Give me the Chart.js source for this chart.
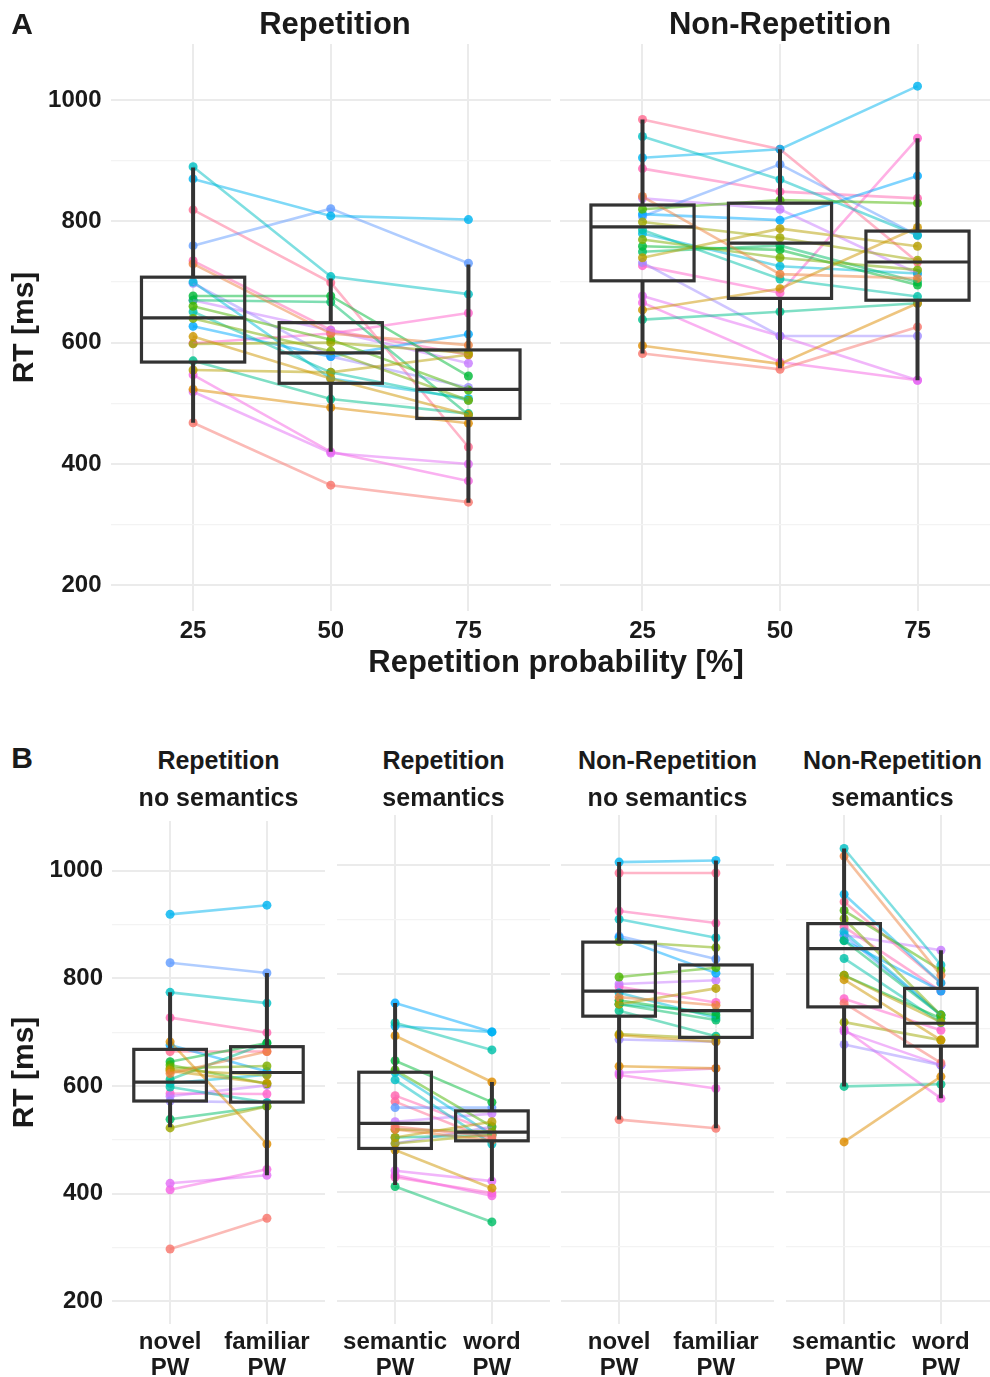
<!DOCTYPE html>
<html>
<head>
<meta charset="utf-8">
<script src="https://cdn.jsdelivr.net/npm/chart.js@4"></script>
<style>
  body { margin: 0; background: #fff; overflow: hidden; }
  #wrap { position: relative; width: 990px; height: 1377px; overflow: hidden; background: #fff;
          font-family: "Liberation Sans", Arial, sans-serif; font-weight: bold; color: #1a1a1a; }
  canvas { position: absolute; }
  .lbl { position: absolute; white-space: nowrap; line-height: 1; transform: translateX(-50%); text-align: center; }
</style>
</head>
<body>
<div id="wrap">
  <canvas id="aRep" width="551" height="650" style="left:0;top:0"></canvas>
  <canvas id="aNon" width="440" height="650" style="left:560px;top:0"></canvas>
  <canvas id="b1" width="325" height="577" style="left:0;top:800px"></canvas>
  <canvas id="b2" width="213" height="577" style="left:337px;top:800px"></canvas>
  <canvas id="b3" width="213" height="577" style="left:561px;top:800px"></canvas>
  <canvas id="b4" width="213" height="577" style="left:786px;top:800px"></canvas>
</div>
<script>
// tick labels
const probLabels = ['25', '50', '75'];
const noSemLabels = [['novel', 'PW'], ['familiar', 'PW']];
const semLabels = [['semantic', 'PW'], ['word', 'PW']];
const yMajor = [200, 400, 600, 800, 1000];
const yMinor = [300, 500, 700, 900];

// panel A: one row per participant, RT at 25 / 50 / 75 %
const repA = [
  [468, 365, 337], [730, 615, 596], [523, 493, 467], [610, 541, 481], [555, 551, 580], [598, 600, 583],
  [640, 586, 505], [660, 605, 522], [677, 677, 545], [670, 667, 481], [570, 507, 483], [651, 551, 505],
  [890, 709, 680], [700, 541, 508], [870, 809, 803], [627, 577, 614], [760, 821, 731], [698, 577, 526],
  [670, 620, 566], [519, 418, 400], [547, 420, 372], [599, 615, 649], [735, 621, 580], [819, 699, 428]
];
const nonRepA = [
  [582, 556, 626], [841, 713, 706], [595, 565, 665], [654, 689, 790], [740, 788, 759], [799, 773, 736],
  [770, 740, 720], [820, 835, 830], [759, 753, 695], [750, 760, 700], [638, 651, 665], [786, 705, 676],
  [940, 869, 777], [780, 726, 714], [905, 919, 1023], [812, 802, 875], [808, 894, 777], [732, 611, 611],
  [838, 820, 714], [677, 611, 538], [666, 568, 538], [727, 682, 937], [887, 849, 838], [968, 919, 733]
];

// panel B: one row per participant, RT for the two item types
const repNoSem = [
  [297, 354], [623, 664], [682, 492], [628, 605], [630, 620], [522, 562], [633, 637], [639, 604],
  [645, 680], [538, 562], [612, 680], [598, 569], [774, 754], [605, 621], [919, 936], [676, 627],
  [829, 810], [572, 569], [581, 601], [419, 434], [407, 445], [586, 585], [727, 699], [664, 664]
];
const repSem = [
  [520, 502], [515, 495], [687, 602], [477, 407], [500, 529], [489, 505], [515, 511], [624, 520],
  [641, 565], [410, 345], [500, 505], [711, 661], [606, 488], [620, 505], [705, 694], [747, 694],
  [555, 555], [489, 520], [529, 544], [439, 420], [431, 393], [427, 398], [577, 511], [566, 495]
];
const nonRepNoSem = [
  [533, 517], [758, 743], [631, 627], [688, 676], [745, 774], [690, 682], [860, 849], [795, 812],
  [752, 725], [745, 716], [733, 686], [745, 731], [901, 867], [766, 720], [1006, 1009], [867, 802],
  [870, 828], [680, 676], [782, 789], [619, 627], [615, 590], [777, 748], [916, 894], [986, 986]
];
const nonRepSem = [
  [747, 637], [1017, 798], [492, 612], [790, 679], [798, 712], [712, 679], [902, 725], [917, 807],
  [798, 719], [862, 725], [594, 598], [829, 711], [1031, 817], [878, 725], [947, 784], [862, 769],
  [872, 725], [671, 633], [872, 844], [695, 633], [699, 572], [755, 697], [887, 769], [933, 784]
];

// boxplots: [lower whisker, q1, median, q3, upper whisker]
const boxRepA = [[468, 568, 641, 708, 889], [420, 533, 583, 633, 706], [336, 475, 523, 588, 729]];
const boxNonRepA = [[582, 702, 791, 827, 968], [558, 673, 764, 830, 919], [538, 670, 733, 784, 937]];
const boxRepNoSem = [[523, 572, 607, 668, 774], [434, 570, 625, 673, 810]];
const boxRepSem = [[413, 480, 526, 620, 747], [420, 494, 510, 549, 602]];
const boxNonRepNoSem = [[533, 723, 769, 859, 1006], [517, 684, 733, 817, 1009]];
const boxNonRepSem = [[594, 740, 847, 893, 1031], [572, 668, 710, 774, 844]];

// ggplot-like hue palette
function hclRgb(h, c, l) {
  const hr = h * Math.PI / 180;
  const u = c * Math.cos(hr), v = c * Math.sin(hr);
  const Xn = 95.047, Yn = 100, Zn = 108.883;
  const den = Xn + 15 * Yn + 3 * Zn;
  const un = 4 * Xn / den, vn = 9 * Yn / den;
  const Y = Yn * Math.pow((l + 16) / 116, 3);
  const up = u / (13 * l) + un, vp = v / (13 * l) + vn;
  const X = Y * 9 * up / (4 * vp);
  const Z = Y * (12 - 3 * up - 20 * vp) / (4 * vp);
  const x = X / 100, y = Y / 100, z = Z / 100;
  const r = 3.2404542 * x - 1.5371385 * y - 0.4985314 * z;
  const g = -0.9692660 * x + 1.8760108 * y + 0.0415560 * z;
  const b = 0.0556434 * x - 0.2040259 * y + 1.0572252 * z;
  const gam = t => {
    t = t <= 0.0031308 ? 12.92 * t : 1.055 * Math.pow(t, 1 / 2.4) - 0.055;
    return Math.round(Math.max(0, Math.min(1, t)) * 255);
  };
  return [gam(r), gam(g), gam(b)];
}
const colors = repA.map((_, i) => hclRgb(15 + 15 * i, 100, 65));

Chart.defaults.font.family = '"Liberation Sans", Arial, sans-serif';
Chart.defaults.font.weight = 'bold';
Chart.defaults.color = '#1a1a1a';

function boxPlugin(stats) {
  return {
    id: 'boxes',
    afterDatasetsDraw(chart) {
      const { ctx, scales: { x, y } } = chart;
      const half = (x.getPixelForValue(2) - x.getPixelForValue(1)) * 0.375;
      ctx.save();
      ctx.strokeStyle = '#333333';
      stats.forEach((s, k) => {
        const cx = x.getPixelForValue(k + 1);
        const [lo, q1, md, q3, hi] = s.map(v => y.getPixelForValue(v));
        ctx.lineWidth = 4;
        ctx.beginPath();
        ctx.moveTo(cx, hi); ctx.lineTo(cx, q3);
        ctx.moveTo(cx, q1); ctx.lineTo(cx, lo);
        ctx.stroke();
        ctx.lineWidth = 3.2;
        ctx.strokeRect(cx - half, q3, 2 * half, q1 - q3);
        ctx.beginPath();
        ctx.moveTo(cx - half, md); ctx.lineTo(cx + half, md);
        ctx.stroke();
      });
      ctx.restore();
    }
  };
}

function facet(id, series, boxes, labels, o) {
  const rgba = (i, a) => `rgba(${colors[i][0]},${colors[i][1]},${colors[i][2]},${a})`;
  const lines = series.map((vals, i) => ({
    data: vals.map((v, k) => ({ x: k + 1, y: v })),
    borderColor: rgba(i, 0.5), borderWidth: 2.6, pointRadius: 0, tension: 0, fill: false
  }));
  const dots = series.map((vals, i) => ({
    data: vals.map((v, k) => ({ x: k + 1, y: v })),
    showLine: false, pointRadius: 4.5, pointBorderWidth: 0,
    pointBackgroundColor: rgba(i, 0.82)
  }));
  const showY = o.yw > 0;
  return new Chart(document.getElementById(id), {
    type: 'line',
    data: { datasets: lines.concat(dots) },
    options: {
      responsive: false, animation: false, events: [],
      layout: { autoPadding: false, padding: { top: o.top, left: 0, right: 0, bottom: 0 } },
      plugins: { legend: { display: false }, tooltip: { enabled: false } },
      scales: {
        x: {
          type: 'linear', min: 0.4, max: labels.length + 0.6,
          afterBuildTicks: s => { s.ticks = labels.map((_, k) => ({ value: k + 1 })); },
          afterFit: s => { s.height = o.xh; },
          border: { display: false },
          grid: { color: '#ebebeb', lineWidth: 2, drawTicks: false },
          ticks: {
            padding: o.xpad, color: '#1a1a1a', maxRotation: 0, autoSkip: false,
            font: { size: 24, weight: 'bold', lineHeight: 1.08 },
            callback: v => labels[Math.round(v) - 1]
          }
        },
        y: {
          min: 157.5, max: 1092.5,
          afterBuildTicks: s => {
            s.ticks = yMajor.concat(yMinor).sort((a, b) => a - b).map(v => ({ value: v }));
          },
          afterFit: s => { s.width = o.yw; },
          border: { display: false },
          grid: {
            drawTicks: false,
            color: c => yMajor.includes(c.tick.value) ? '#ebebeb' : '#f3f3f3',
            lineWidth: c => yMajor.includes(c.tick.value) ? 2 : 1.2
          },
          ticks: {
            display: showY, padding: 9, color: '#1a1a1a', autoSkip: false,
            font: { size: 24, weight: 'bold', lineHeight: 1 },
            callback: v => yMajor.includes(v) ? String(v) : ''
          },
          title: {
            display: showY, text: 'RT [ms]', color: '#1a1a1a',
            font: { size: 30, weight: 'bold', lineHeight: 1 }, padding: { top: 10, bottom: 0 }
          }
        }
      }
    },
    plugins: [boxPlugin(boxes)]
  });
}

const aOpts = { top: 44, xh: 39, xpad: 7 };
const bOpts = { top: 15, xh: 53, xpad: 5 };
facet('aRep', repA, boxRepA, probLabels, Object.assign({ yw: 110.5 }, aOpts));
facet('aNon', nonRepA, boxNonRepA, probLabels, Object.assign({ yw: 0 }, aOpts));
facet('b1', repNoSem, boxRepNoSem, noSemLabels, Object.assign({ yw: 112 }, bOpts));
facet('b2', repSem, boxRepSem, semLabels, Object.assign({ yw: 0 }, bOpts));
facet('b3', nonRepNoSem, boxNonRepNoSem, noSemLabels, Object.assign({ yw: 0 }, bOpts));
facet('b4', nonRepSem, boxNonRepSem, semLabels, Object.assign({ yw: 0 }, bOpts));

// strip titles, panel letters, shared axis title
const wrap = document.getElementById('wrap');
function label(text, cx, baseline, size) {
  text.split('\n').forEach((line, i) => {
    const d = document.createElement('div');
    d.className = 'lbl';
    d.textContent = line;
    d.style.fontSize = size + 'px';
    d.style.left = cx + 'px';
    d.style.top = (baseline[i] - 0.8465 * size) + 'px';
    wrap.appendChild(d);
  });
}
label('A', 22, [34], 30);
label('Repetition', 335, [34], 31);
label('Non-Repetition', 780, [34], 31);
label('Repetition probability [%]', 556, [672], 31);
label('B', 22, [768], 30);
label('Repetition\nno semantics', 218.5, [769, 806], 25);
label('Repetition\nsemantics', 443.5, [769, 806], 25);
label('Non-Repetition\nno semantics', 667.5, [769, 806], 25);
label('Non-Repetition\nsemantics', 892.5, [769, 806], 25);
</script>
</body>
</html>
